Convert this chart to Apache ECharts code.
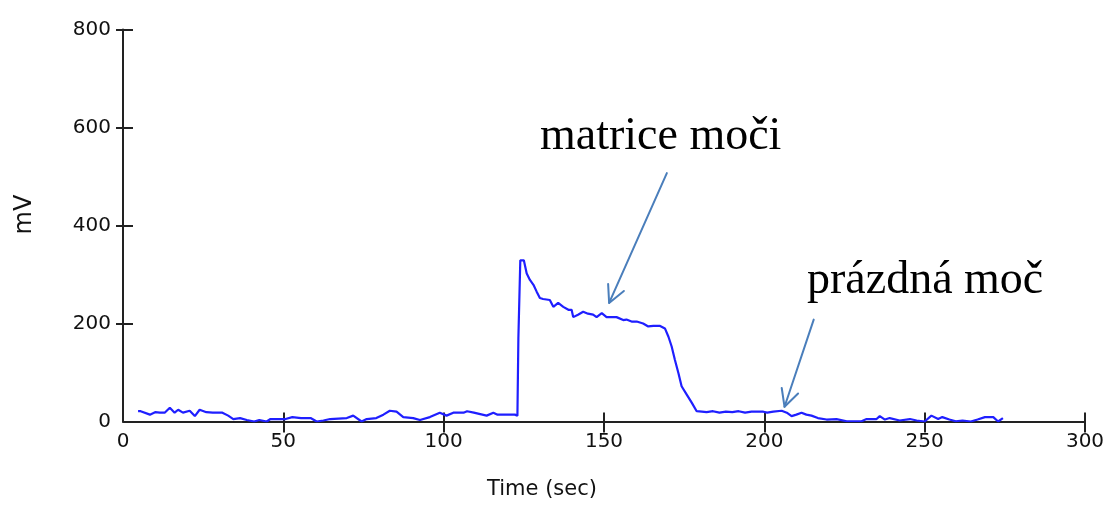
<!DOCTYPE html>
<html>
<head>
<meta charset="utf-8">
<script src="https://cdn.jsdelivr.net/npm/echarts@6/dist/echarts.min.js"></script>
<style>html,body{margin:0;padding:0;background:#fff}#c{width:1111px;height:507px}</style>
</head>
<body>
<div id="c"></div>
<script>
const timeSec = [4.7,5.5,8.4,10,11.5,13,14.6,16.1,17.2,18.7,20.8,22.4,23.9,26,28,31,32.8,34.4,36.5,38.6,40.9,42.5,44.8,46,50.7,52.8,55.5,58.5,60.4,62.5,64.6,69.8,71.8,74.4,76,79,81.2,83.2,85.3,87.4,90.5,92.6,95.7,98.8,100.9,103,106.2,107.3,109.4,113.4,115.5,116.8,120,122.2,123.0,123.3,123.7,123.9,125,125.9,126.9,128,129,130,131,133.1,134.2,135.7,137.3,138.9,139.9,140.4,141.9,143.5,145,146.6,147.7,149.3,150.8,153.9,156,157,158.6,160.2,162.2,163.8,165.4,167.5,169,170.1,171.1,172.1,173.2,174.2,175.8,177.4,178.9,180.5,182,184,186,188,190,192,194,196,199.7,200.9,202.8,205.4,207,208.5,210,211.6,213.1,214.7,216.7,219.4,222.5,225.7,230.3,231.9,235,236,237.6,239.1,242.2,245.4,247.5,250,252.1,254.2,255.5,257.7,259.7,261.8,264.4,266.5,268.8,271.4,272.9,274.4];
const signalMV = [21,21,14,19,18,18,28,18,24,18,22,11,24,19,18,18,12,5,7,3,0,3,0,5,5,9,7,7,0,2,5,7,12,0,5,7,14,22,20,9,7,3,9,18,12,18,18,21,18,12,18,14,14,14,12,171,171,329,329,302,289,279,265,252,250,248,234,242,234,228,228,213,218,224,220,218,213,221,213,213,207,208,204,204,200,194,195,195,190,173,153,126,99,72,55,38,21,20,19,21,18,20,19,21,18,20,20,18,20,22,18,11,14,18,14,12,7,4,5,0.5,0.5,5,5,11,4,7,2,5,2,0,12,5,9,4,0.5,2,0,4,9,9,0,7];

const xTicks = [50,100,150,200,250,300];
const yTicks = [200,400,600,800];

const annotationLabels = ['matrice moči', 'prázdná moč'];
// arrows: [fromTime, fromMV] -> [toTime, toMV]
const arrowFrom = [[169.6, 507], [215.4, 208]];
const arrowTo = [[151.6, 242], [206.3, 30]];

const chart = echarts.init(document.getElementById('c'), null, {renderer: 'canvas'});
const axisColor = '#222';
const labelFont = {fontFamily: 'DejaVu Sans', fontSize: 20, color: '#111'};

const arrowData = arrowFrom.map((f, i) => [f[0], f[1], arrowTo[i][0], arrowTo[i][1]]);

chart.setOption({
  animation: false,
  backgroundColor: '#fff',
  grid: {left: 123, right: 26, top: 29.5, bottom: 85.5, containLabel: false},
  xAxis: [{
    type: 'value', min: 0, max: 300, interval: 50,
    name: 'Time (sec)', nameLocation: 'middle', nameGap: 58,
    nameTextStyle: {fontFamily: 'DejaVu Sans', fontSize: 21, color: '#111', padding: [0, 124, 0, 0]},
    axisLine: {show: true, lineStyle: {color: axisColor, width: 2}},
    axisTick: {show: true, length: 11, lineStyle: {color: axisColor, width: 2}, customValues: xTicks},
    axisLabel: Object.assign({margin: 10}, labelFont),
    splitLine: {show: false}
  }, {
    type: 'value', min: 0, max: 300, interval: 50, position: 'bottom',
    axisLine: {show: false},
    axisTick: {show: true, inside: true, length: 9, lineStyle: {color: axisColor, width: 2}, customValues: xTicks},
    axisLabel: {show: false},
    splitLine: {show: false}
  }],
  yAxis: [{
    type: 'value', min: 0, max: 800, interval: 200,
    name: 'mV', nameLocation: 'middle', nameGap: 86, nameRotate: 90,
    nameTextStyle: {fontFamily: 'DejaVu Sans', fontSize: 24, color: '#111', padding: [0, 0, 0, 22]},
    axisLine: {show: true, lineStyle: {color: axisColor, width: 2}},
    axisTick: {show: true, length: 7, lineStyle: {color: axisColor, width: 2}, customValues: yTicks},
    axisLabel: Object.assign({margin: 12}, labelFont),
    splitLine: {show: false}
  }, {
    type: 'value', min: 0, max: 800, interval: 200, position: 'left', offset: 0,
    axisLine: {show: false},
    axisTick: {show: true, inside: true, length: 10, lineStyle: {color: axisColor, width: 2}, customValues: yTicks},
    axisLabel: {show: false},
    splitLine: {show: false}
  }],
  series: [{
    type: 'line',
    xAxisIndex: 0, yAxisIndex: 0,
    data: timeSec.map((t, i) => [t, signalMV[i]]),
    showSymbol: false,
    lineStyle: {color: '#1f1fff', width: 2.2},
    z: 3
  }, {
    type: 'custom',
    xAxisIndex: 0, yAxisIndex: 0,
    data: arrowData,
    renderItem: function (params, api) {
      const p1 = api.coord([api.value(0), api.value(1)]);
      const p2 = api.coord([api.value(2), api.value(3)]);
      const dx = p1[0] - p2[0], dy = p1[1] - p2[1];
      const len = Math.sqrt(dx * dx + dy * dy);
      const ux = dx / len, uy = dy / len;
      const hl = 19, ang = 27 * Math.PI / 180;
      const c = Math.cos(ang), s = Math.sin(ang);
      const b1 = [p2[0] + hl * (ux * c - uy * s), p2[1] + hl * (ux * s + uy * c)];
      const b2 = [p2[0] + hl * (ux * c + uy * s), p2[1] + hl * (-ux * s + uy * c)];
      const st = {stroke: '#4a7ebb', lineWidth: 2, fill: null, lineCap: 'round', lineJoin: 'round'};
      return {type: 'group', children: [
        {type: 'line', shape: {x1: p1[0], y1: p1[1], x2: p2[0], y2: p2[1]}, style: st},
        {type: 'polyline', shape: {points: [b1, p2, b2]}, style: st}
      ]};
    },
    z: 4
  }],
  graphic: [
    {type: 'text', left: 540, top: 114, style: {text: annotationLabels[0], font: '46px "Liberation Serif"', fill: '#000'}},
    {type: 'text', left: 807, top: 258, style: {text: annotationLabels[1], font: '46px "Liberation Serif"', fill: '#000'}}
  ]
});
</script>
</body>
</html>
